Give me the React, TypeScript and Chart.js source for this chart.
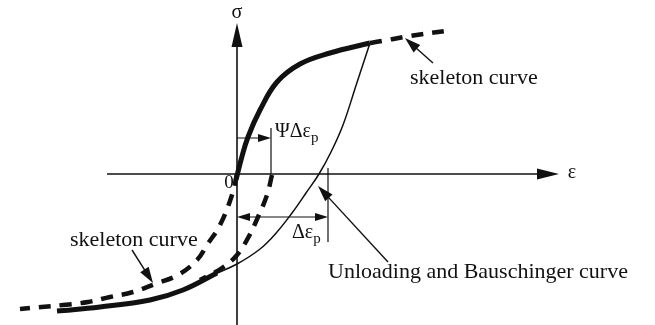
import React, { useEffect, useRef } from "react";
import { Chart, registerables } from "chart.js";

Chart.register(...registerables);

// Coordinate frame: strain ε (x) and stress σ (y), arbitrary schematic units
const X_RANGE = [-2.37, 4.18];
const Y_RANGE = [-1.51, 1.74];

// Tension skeleton curve (solid, loaded part)
const skeletonTensionSolid = [
  { x: -0.01, y: -0.06 }, { x: 0.04, y: 0.14 }, { x: 0.11, y: 0.37 }, { x: 0.23, y: 0.64 },
  { x: 0.40, y: 0.92 }, { x: 0.63, y: 1.10 }, { x: 0.93, y: 1.21 }, { x: 1.33, y: 1.31 },
];
// Tension skeleton continuation (dashed)
const skeletonTensionDashed = [
  { x: 1.33, y: 1.31 }, { x: 1.45, y: 1.33 }, { x: 1.73, y: 1.38 }, { x: 2.15, y: 1.44 },
];
// Unloading and Bauschinger curve (thin)
const bauschingerThin = [
  { x: 1.33, y: 1.31 }, { x: 1.195, y: 0.90 }, { x: 1.06, y: 0.49 }, { x: 0.94, y: 0.22 },
  { x: 0.82, y: 0.0 }, { x: 0.69, y: -0.19 }, { x: 0.55, y: -0.39 }, { x: 0.40, y: -0.58 },
  { x: 0.23, y: -0.75 }, { x: 0.0, y: -0.90 }, { x: -0.22, y: -1.0 },
];
// Bauschinger curve merged with compression skeleton (thick)
const bauschingerThick = [
  { x: -0.20, y: -0.99 }, { x: -0.54, y: -1.16 }, { x: -0.87, y: -1.26 },
  { x: -1.37, y: -1.33 }, { x: -1.80, y: -1.37 },
];
// Compression skeleton curve (dashed)
const skeletonCompression = [
  { x: 0.0, y: 0.0 }, { x: -0.05, y: -0.21 }, { x: -0.17, y: -0.51 }, { x: -0.30, y: -0.71 },
  { x: -0.40, y: -0.86 }, { x: -0.59, y: -1.01 }, { x: -0.82, y: -1.10 }, { x: -1.04, y: -1.18 },
  { x: -1.27, y: -1.23 }, { x: -1.49, y: -1.28 }, { x: -1.74, y: -1.31 }, { x: -2.17, y: -1.35 },
];
// Shifted skeleton (dashed) starting at ΨΔεp
const shiftedSkeleton = [
  { x: 0.35, y: -0.01 }, { x: 0.30, y: -0.21 }, { x: 0.21, y: -0.43 }, { x: 0.11, y: -0.64 },
  { x: 0.0, y: -0.81 }, { x: -0.15, y: -0.94 }, { x: -0.37, y: -1.06 },
];

// Annotation anchors (data units)
const AXIS_X_START = -1.30;
const AXIS_X_TIP = 3.22;
const AXIS_Y_TIP = 1.51;
const PSI_DIM = { y: 0.36, x1: 0.0, x2: 0.34, tickTop: 0.46 };
const DELTA_DIM = { y: -0.43, x1: 0.0, x2: 0.91, tickTop: 0.06, tickBottom: -0.68 };
const LABELS = {
  sigma: { x: 0.0, y: 1.61, text: "σ" },
  eps: { x: 3.35, y: 0.01, text: "ε" },
  zero: { x: -0.08, y: -0.09, text: "0" },
  skelTop: { x: 1.73, y: 0.96, text: "skeleton curve" },
  skelBottom: { x: -1.67, y: -0.66, text: "skeleton curve" },
  unloading: { x: 0.91, y: -0.98, text: "Unloading and Bauschinger curve" },
};
const POINTERS = [
  { from: { x: 1.96, y: 1.11 }, to: { x: 1.68, y: 1.36 } },
  { from: { x: -1.05, y: -0.76 }, to: { x: -0.84, y: -1.09 } },
  { from: { x: 1.51, y: -0.88 }, to: { x: 0.81, y: -0.12 } },
];

const SERIF = '"Liberation Serif", "Times New Roman", serif';

function arrowHead(ctx, fx, fy, tx, ty, len, halfW) {
  const a = Math.atan2(ty - fy, tx - fx);
  const bx = tx - len * Math.cos(a);
  const by = ty - len * Math.sin(a);
  ctx.beginPath();
  ctx.moveTo(tx, ty);
  ctx.lineTo(bx + halfW * Math.sin(a), by - halfW * Math.cos(a));
  ctx.lineTo(bx - halfW * Math.sin(a), by + halfW * Math.cos(a));
  ctx.closePath();
  ctx.fill();
}

const annotationPlugin = {
  id: "schematic",
  afterDatasetsDraw(chart) {
    const ctx = chart.ctx;
    const sx = chart.scales.x;
    const sy = chart.scales.y;
    const px = (v) => sx.getPixelForValue(v);
    const py = (v) => sy.getPixelForValue(v);
    ctx.save();
    ctx.strokeStyle = "#111";
    ctx.fillStyle = "#111";
    ctx.setLineDash([]);
    ctx.lineCap = "butt";

    // σ axis
    ctx.lineWidth = 1.6;
    ctx.beginPath();
    ctx.moveTo(px(0), py(Y_RANGE[0]));
    ctx.lineTo(px(0), py(AXIS_Y_TIP) + 10);
    ctx.stroke();
    arrowHead(ctx, px(0), py(0), px(0), py(AXIS_Y_TIP), 24, 5.5);

    // ε axis
    ctx.beginPath();
    ctx.moveTo(px(AXIS_X_START), py(0));
    ctx.lineTo(px(AXIS_X_TIP) - 10, py(0));
    ctx.stroke();
    arrowHead(ctx, px(0), py(0), px(AXIS_X_TIP), py(0), 22, 5.5);

    // ΨΔεp dimension
    ctx.lineWidth = 1.2;
    ctx.beginPath();
    ctx.moveTo(px(PSI_DIM.x1), py(PSI_DIM.y));
    ctx.lineTo(px(PSI_DIM.x2) - 6, py(PSI_DIM.y));
    ctx.moveTo(px(PSI_DIM.x2), py(0));
    ctx.lineTo(px(PSI_DIM.x2), py(PSI_DIM.tickTop));
    ctx.stroke();
    arrowHead(ctx, px(PSI_DIM.x1), py(PSI_DIM.y), px(PSI_DIM.x2), py(PSI_DIM.y), 13, 4);

    // Δεp dimension
    ctx.beginPath();
    ctx.moveTo(px(DELTA_DIM.x1) + 6, py(DELTA_DIM.y));
    ctx.lineTo(px(DELTA_DIM.x2) - 6, py(DELTA_DIM.y));
    ctx.moveTo(px(DELTA_DIM.x2), py(DELTA_DIM.tickTop));
    ctx.lineTo(px(DELTA_DIM.x2), py(DELTA_DIM.tickBottom));
    ctx.stroke();
    arrowHead(ctx, px(DELTA_DIM.x1), py(DELTA_DIM.y), px(DELTA_DIM.x2), py(DELTA_DIM.y), 13, 4);
    arrowHead(ctx, px(DELTA_DIM.x2), py(DELTA_DIM.y), px(DELTA_DIM.x1), py(DELTA_DIM.y), 13, 4);

    // pointers
    ctx.lineWidth = 1.4;
    POINTERS.forEach((p) => {
      const fx = px(p.from.x), fy = py(p.from.y), tx = px(p.to.x), ty = py(p.to.y);
      const a = Math.atan2(ty - fy, tx - fx);
      ctx.beginPath();
      ctx.moveTo(fx, fy);
      ctx.lineTo(tx - 10 * Math.cos(a), ty - 10 * Math.sin(a));
      ctx.stroke();
      arrowHead(ctx, fx, fy, tx, ty, 16, 5);
    });

    // labels
    ctx.textBaseline = "middle";
    ctx.textAlign = "center";
    ctx.font = `20px ${SERIF}`;
    ctx.fillText(LABELS.sigma.text, px(LABELS.sigma.x), py(LABELS.sigma.y));
    ctx.fillText(LABELS.eps.text, px(LABELS.eps.x), py(LABELS.eps.y));
    ctx.font = `19px ${SERIF}`;
    ctx.fillText(LABELS.zero.text, px(LABELS.zero.x), py(LABELS.zero.y));

    ctx.textAlign = "left";
    ctx.font = `22px ${SERIF}`;
    [LABELS.skelTop, LABELS.skelBottom, LABELS.unloading].forEach((l) => {
      ctx.fillText(l.text, px(l.x), py(l.y));
    });

    // ΨΔεp
    ctx.textBaseline = "alphabetic";
    ctx.font = `20px ${SERIF}`;
    let x0 = px(PSI_DIM.x2) + 4;
    const b1 = py(PSI_DIM.y + 0.01);
    ctx.fillText("ΨΔε", x0, b1);
    let w = ctx.measureText("ΨΔε").width;
    ctx.font = `15px ${SERIF}`;
    ctx.fillText("p", x0 + w, b1 + 5);

    // Δεp
    ctx.font = `20px ${SERIF}`;
    x0 = px(0.55);
    const b2 = py(-0.64);
    ctx.fillText("Δε", x0, b2);
    w = ctx.measureText("Δε").width;
    ctx.font = `15px ${SERIF}`;
    ctx.fillText("p", x0 + w, b2 + 5);

    ctx.restore();
  },
};

export default function App() {
  const ref = useRef(null);
  useEffect(() => {
    const line = (data, width, dash) => ({
      data,
      showLine: true,
      borderColor: "#111",
      borderWidth: width,
      borderDash: dash,
      borderCapStyle: "butt",
      pointRadius: 0,
      tension: 0.4,
      fill: false,
    });
    const chart = new Chart(ref.current, {
      type: "scatter",
      data: {
        datasets: [
          line(bauschingerThin, 1.5, []),
          line(bauschingerThick, 5, []),
          line(skeletonCompression, 4.5, [12, 9]),
          line(shiftedSkeleton, 4.5, [12, 9]),
          line(skeletonTensionSolid, 5, []),
          line(skeletonTensionDashed, 4.5, [12, 9]),
        ],
      },
      options: {
        animation: false,
        responsive: true,
        maintainAspectRatio: false,
        devicePixelRatio: 1,
        layout: { padding: 0 },
        plugins: { legend: { display: false }, tooltip: { enabled: false } },
        scales: {
          x: { type: "linear", min: X_RANGE[0], max: X_RANGE[1], display: false },
          y: { type: "linear", min: Y_RANGE[0], max: Y_RANGE[1], display: false },
        },
      },
      plugins: [annotationPlugin],
    });
    return () => chart.destroy();
  }, []);
  return (
    <div style={{ position: "absolute", left: 0, top: 0, width: 655, height: 325, background: "#fff" }}>
      <canvas ref={ref} />
    </div>
  );
}
